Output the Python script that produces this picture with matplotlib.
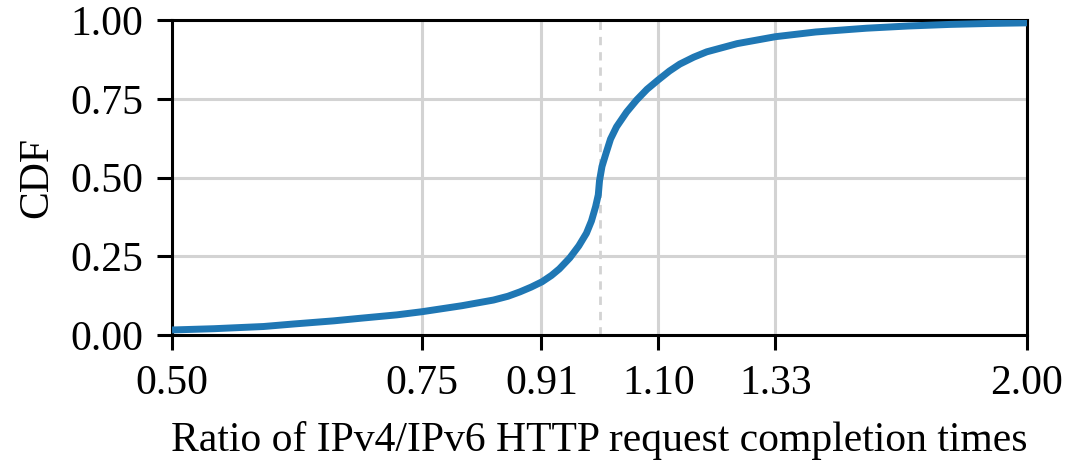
import matplotlib.pyplot as plt
from matplotlib.ticker import FixedLocator, NullLocator

plt.rcParams['font.family'] = ['Liberation Serif', 'DejaVu Serif']
plt.rcParams['font.size'] = 30

# ratio (IPv4/IPv6) vs CDF
ratio = [0.50, 0.535, 0.58, 0.609, 0.65, 0.678, 0.72, 0.75, 0.80, 0.842, 0.862, 0.879,
         0.895, 0.911, 0.925, 0.937, 0.953, 0.967, 0.979, 0.987, 0.9936, 0.998, 1.0, 1.004,
         1.0106, 1.018, 1.028, 1.045, 1.062, 1.08, 1.10, 1.12, 1.139, 1.165,
         1.19, 1.25, 1.33, 1.42, 1.542, 1.65, 1.765, 1.88, 2.0]
cdf = [0.016, 0.020, 0.027, 0.035, 0.045, 0.053, 0.064, 0.074, 0.093, 0.111, 0.123, 0.137,
       0.152, 0.169, 0.189, 0.210, 0.245, 0.283, 0.323, 0.362, 0.407, 0.445, 0.49, 0.535,
       0.577, 0.622, 0.661, 0.708, 0.746, 0.780, 0.81, 0.838, 0.860, 0.882,
       0.899, 0.925, 0.947, 0.962, 0.974, 0.981, 0.986, 0.989, 0.991]

xticks = [0.50, 0.75, 0.91, 1.10, 1.33, 2.00]
yticks = [0.00, 0.25, 0.50, 0.75, 1.00]

fig = plt.figure(figsize=(10.66, 4.61), dpi=100)
ax = fig.add_axes([0.1614, 0.2733, 0.8020, 0.6833])

ax.set_xscale('log')
ax.set_xlim(0.5, 2.0)
ax.set_ylim(0, 1)
ax.xaxis.set_major_locator(FixedLocator(xticks))
ax.xaxis.set_minor_locator(NullLocator())
ax.set_xticklabels([f"{t:.2f}" for t in xticks])
ax.set_yticks(yticks)
ax.set_yticklabels([f"{t:.2f}" for t in yticks])

ax.grid(True, color='#d3d3d3', linewidth=2.2)
ax.set_axisbelow(True)
ax.axvline(1.0, color='#d3d3d3', linestyle=(0, (3, 2.5)), linewidth=2.0, zorder=1)

ax.plot(ratio, cdf, color='#1f77b4', linewidth=5, solid_capstyle='butt',
        solid_joinstyle='round', zorder=3)

for s in ax.spines.values():
    s.set_linewidth(2.2)
ax.tick_params(which='major', length=11, width=2.2, direction='out', pad=10)
ax.tick_params(axis='y', pad=10)

ax.set_xlabel("Ratio of IPv4/IPv6 HTTP request completion times", labelpad=13)
ax.set_ylabel("CDF", labelpad=10)

fig.savefig('out.png', dpi=100)
